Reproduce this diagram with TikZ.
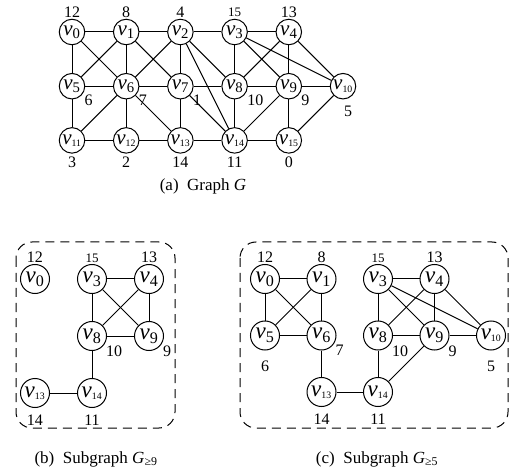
\documentclass[tikz,border=0pt]{standalone}
\usepackage{fontspec}
\setmainfont{Liberation Serif}
\usetikzlibrary{positioning}
\newcommand\vn[1]{\textit{v}\textsubscript{#1}}
\newcommand\vnn[1]{\textit{v}{\fontsize{14}{14}\selectfont\textsubscript{#1}}}

\begin{document}
\begin{tikzpicture}[x=1pt,y=-1pt,node distance=27.7pt]
	\tikzset{vtx/.style={draw, circle, line width=1pt, inner sep=0pt, minimum size=25.5pt, font=\fontsize{21}{21}\selectfont},
		bvtx/.style={vtx, minimum size=29pt, font=\fontsize{23}{23}\selectfont},
		lbl/.style={inner sep=0pt, font=\fontsize{16}{16}\selectfont},
		lbs/.style={inner sep=0pt, font=\fontsize{13}{13}\selectfont},
		edge/.style={line width=1pt},
		dashbox/.style={line width=1pt, dash pattern=on 9pt off 6pt, rounded corners=16pt},
		captxt/.style={font=\fontsize{17}{17}\selectfont},
	}
	\useasboundingbox (0,0) rectangle (509,473);
	% (a) graph G
	\node [vtx, label={[lbl, label distance=1pt]above:12}] at (72,32) (a0) {\vn0};
	\node [vtx, right = of a0, label={[lbl, label distance=1pt]above:8}] (a1) {\vn1};
	\node [vtx, right = of a1, label={[lbl, label distance=1pt]above:4}] (a2) {\vn2};
	\node [vtx, right = of a2, label={[lbs, label distance=1.5pt]above:15}] (a3) {\vn3};
	\node [vtx, right = of a3, label={[lbl, label distance=1pt]above:13}] (a4) {\vn4};
	\node [vtx, below = of a0, label={[lbl, label distance=2pt]-35:6}] (a5) {\vn5};
	\node [vtx, right = of a5, label={[lbl, label distance=2pt]-35:7}] (a6) {\vn6};
	\node [vtx, right = of a6, label={[lbl, label distance=2pt]-35:1}] (a7) {\vn7};
	\node [vtx, right = of a7, label={[lbl, label distance=2pt]-35:10}] (a8) {\vn8};
	\node [vtx, right = of a8, label={[lbl, label distance=2pt]-35:9}] (a9) {\vn9};
	\node [vtx, right = of a9, label={[lbl, label distance=6pt, xshift=5pt]below:5}] (a10) {\vnn{10}};
	\node [vtx, below = of a5, label={[lbl, label distance=3pt]below:3}] (a11) {\vnn{11}};
	\node [vtx, right = of a11, label={[lbl, label distance=3pt]below:2}] (a12) {\vnn{12}};
	\node [vtx, right = of a12, label={[lbl, label distance=3pt]below:14}] (a13) {\vnn{13}};
	\node [vtx, right = of a13, label={[lbl, label distance=3pt]below:11}] (a14) {\vnn{14}};
	\node [vtx, right = of a14, label={[lbl, label distance=3pt]below:0}] (a15) {\vnn{15}};
	\foreach \u/\w in {a0/a1,a1/a2,a2/a3,a3/a4,a0/a5,a0/a6,a1/a5,a1/a6,a1/a7,a2/a6,a2/a7,a2/a8,a2/a14,
		a3/a8,a3/a9,a3/a10,a4/a8,a4/a9,a4/a10,a5/a6,a6/a7,a7/a8,a8/a9,a9/a10,a5/a11,a6/a11,a6/a12,a6/a13,
		a7/a13,a7/a14,a8/a14,a9/a14,a9/a15,a10/a15,a11/a12,a12/a13,a13/a14,a14/a15}
		\draw [edge] (\u) -- (\w);
	\node [captxt] at (203,186) (capa) {(a)\enspace Graph \textit{G}};
	% (b) subgraph G>=9
	\begin{scope}[node distance=27pt]
		\node [bvtx, label={[lbl, label distance=1pt]above:12}] at (35,279) (b0) {\vn0};
		\node [bvtx, label={[lbs, label distance=1.5pt]above:15}] at (92,279) (b3) {\vn3};
		\node [bvtx, right = of b3, label={[lbl, label distance=1pt]above:13}] (b4) {\vn4};
		\node [bvtx, below = of b3, label={[lbl, label distance=2pt]-35:10}] (b8) {\vn8};
		\node [bvtx, right = of b8, label={[lbl, label distance=2pt]-35:9}] (b9) {\vn9};
		\node [bvtx, below = of b8, label={[lbl, label distance=7pt]below:11}] (b14) {\vnn{14}};
		\node [bvtx, left = of b14, label={[lbl, label distance=7pt]below:14}] (b13) {\vnn{13}};
	\end{scope}
	\foreach \u/\w in {b3/b4,b3/b8,b3/b9,b4/b8,b4/b9,b8/b9,b8/b14,b13/b14}
		\draw [edge] (\u) -- (\w);
	\draw [dashbox] (16,242) rectangle (175,428);
	\node [captxt] at (96,459) (capb) {(b)\enspace Subgraph \textit{G}\textsubscript{≥9}};
	% (c) subgraph G>=5
	\begin{scope}[node distance=26.5pt]
		\node [bvtx, label={[lbl, label distance=1pt]above:12}] at (265,279) (c0) {\vn0};
		\node [bvtx, right = of c0, label={[lbl, label distance=1pt]above:8}] (c1) {\vn1};
		\node [bvtx, right = of c1, label={[lbs, label distance=1.5pt]above:15}] (c3) {\vn3};
		\node [bvtx, right = of c3, label={[lbl, label distance=1pt]above:13}] (c4) {\vn4};
		\node [bvtx, below = of c0, label={[lbl, label distance=10pt]below:6}] (c5) {\vn5};
		\node [bvtx, right = of c5, label={[lbl, label distance=2pt]-35:7}] (c6) {\vn6};
		\node [bvtx, right = of c6, label={[lbl, label distance=2pt]-35:10}] (c8) {\vn8};
		\node [bvtx, right = of c8, label={[lbl, label distance=2pt]-35:9}] (c9) {\vn9};
		\node [bvtx, right = of c9, label={[lbl, label distance=10pt]below:5}] (c10) {\vnn{10}};
		\node [bvtx, below = of c6, label={[lbl, label distance=7pt]below:14}] (c13) {\vnn{13}};
		\node [bvtx, right = of c13, label={[lbl, label distance=7pt]below:11}] (c14) {\vnn{14}};
	\end{scope}
	\foreach \u/\w in {c0/c1,c0/c5,c0/c6,c1/c5,c1/c6,c5/c6,c6/c13,c13/c14,c3/c4,c3/c8,c3/c9,c3/c10,
		c4/c8,c4/c9,c4/c10,c8/c9,c9/c10,c8/c14,c9/c14}
		\draw [edge] (\u) -- (\w);
	\draw [dashbox] (240,242) rectangle (508,428);
	\node [captxt] at (377,459) (capc) {(c)\enspace Subgraph \textit{G}\textsubscript{≥5}};
\end{tikzpicture}
\end{document}
